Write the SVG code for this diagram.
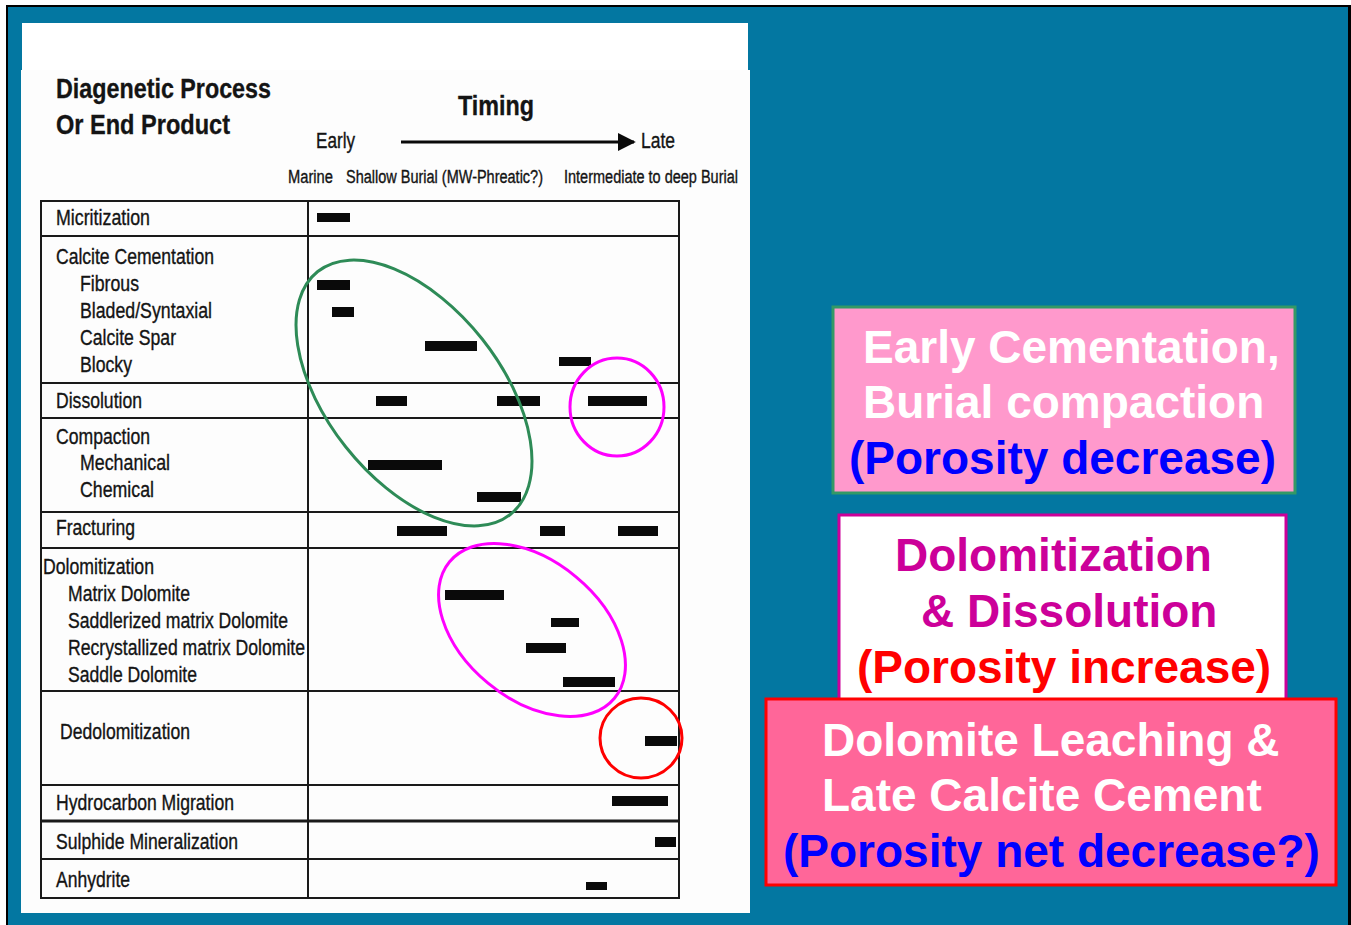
<svg xmlns="http://www.w3.org/2000/svg" width="1351" height="925" viewBox="0 0 1351 925">
<style>
.nar{font-family:"Liberation Sans",Arial,sans-serif;fill:#141414;stroke:#141414;stroke-width:0.35}
.lbl{font-size:21.5px}
.hdr{font-size:28.5px;font-weight:bold}
.sub{font-size:18px}
.bar{fill:#0a0a0a}
.grid{stroke:#1a1a1a;stroke-width:2;fill:none}
.box{font-family:"Liberation Sans",Arial,sans-serif;font-weight:bold;font-size:46px}
</style>
<defs>
<marker id="ah" viewBox="0 0 10 10" refX="9" refY="5" markerWidth="6" markerHeight="6" markerUnits="strokeWidth" orient="auto">
<path d="M0,0 L10,5 L0,10 z" fill="#0a0a0a"/>
</marker>
</defs>
<rect x="0" y="0" width="1351" height="925" fill="#ffffff"/>
<rect x="6" y="5" width="1345" height="925" fill="#000000"/>
<rect x="8" y="7" width="1340" height="925" fill="#0377A1"/>
<rect x="22" y="23" width="726" height="48" fill="#ffffff"/>
<rect x="21" y="70" width="729" height="843" fill="#fdfdfd"/>

<g id="header">
<text class="nar hdr" x="56" y="98" textLength="215" lengthAdjust="spacingAndGlyphs">Diagenetic Process</text>
<text class="nar hdr" x="56" y="134" textLength="174" lengthAdjust="spacingAndGlyphs">Or End Product</text>
<text class="nar hdr" x="458" y="115" textLength="76" lengthAdjust="spacingAndGlyphs">Timing</text>
<text class="nar lbl" x="316" y="148" textLength="39" lengthAdjust="spacingAndGlyphs">Early</text>
<text class="nar lbl" x="641" y="148" textLength="34" lengthAdjust="spacingAndGlyphs">Late</text>
<text class="nar sub" x="288" y="183" textLength="45" lengthAdjust="spacingAndGlyphs">Marine</text>
<text class="nar sub" x="346" y="183" textLength="197" lengthAdjust="spacingAndGlyphs">Shallow Burial (MW-Phreatic?)</text>
<text class="nar sub" x="564" y="183" textLength="174" lengthAdjust="spacingAndGlyphs">Intermediate to deep Burial</text>
</g>

<g id="connectors">
<line x1="401" y1="142" x2="634" y2="142" stroke="#0a0a0a" stroke-width="3" marker-end="url(#ah)"/>
</g>

<g id="table-grid" class="grid">
<rect x="41" y="201" width="638" height="697"/>
<line x1="308" y1="201" x2="308" y2="898"/>
<line x1="41" y1="236" x2="679" y2="236"/>
<line x1="41" y1="383" x2="679" y2="383"/>
<line x1="41" y1="418" x2="679" y2="418"/>
<line x1="41" y1="512" x2="679" y2="512"/>
<line x1="41" y1="548" x2="679" y2="548"/>
<line x1="41" y1="691" x2="679" y2="691"/>
<line x1="41" y1="785" x2="679" y2="785"/>
<line x1="41" y1="821" x2="679" y2="821" stroke-width="3"/>
<line x1="41" y1="859" x2="679" y2="859"/>
</g>

<g id="row-micritization">
<text class="nar lbl" x="56" y="225" textLength="94" lengthAdjust="spacingAndGlyphs">Micritization</text>
<rect class="bar" x="317" y="213" width="33" height="9"/>
</g>
<g id="row-calcite-cementation">
<text class="nar lbl" x="56" y="264" textLength="158" lengthAdjust="spacingAndGlyphs">Calcite Cementation</text>
<text class="nar lbl" x="80" y="291" textLength="59" lengthAdjust="spacingAndGlyphs">Fibrous</text>
<text class="nar lbl" x="80" y="318" textLength="132" lengthAdjust="spacingAndGlyphs">Bladed/Syntaxial</text>
<text class="nar lbl" x="80" y="345" textLength="96" lengthAdjust="spacingAndGlyphs">Calcite Spar</text>
<text class="nar lbl" x="80" y="372" textLength="52" lengthAdjust="spacingAndGlyphs">Blocky</text>
<rect class="bar" x="317" y="280" width="33" height="10"/>
<rect class="bar" x="332" y="307" width="22" height="10"/>
<rect class="bar" x="425" y="341" width="52" height="10"/>
<rect class="bar" x="559" y="357" width="32" height="9"/>
</g>
<g id="row-dissolution">
<text class="nar lbl" x="56" y="408" textLength="86" lengthAdjust="spacingAndGlyphs">Dissolution</text>
<rect class="bar" x="376" y="396" width="31" height="10"/>
<rect class="bar" x="497" y="396" width="43" height="10"/>
<rect class="bar" x="588" y="396" width="59" height="10"/>
</g>
<g id="row-compaction">
<text class="nar lbl" x="56" y="444" textLength="94" lengthAdjust="spacingAndGlyphs">Compaction</text>
<text class="nar lbl" x="80" y="470" textLength="90" lengthAdjust="spacingAndGlyphs">Mechanical</text>
<text class="nar lbl" x="80" y="497" textLength="74" lengthAdjust="spacingAndGlyphs">Chemical</text>
<rect class="bar" x="368" y="460" width="74" height="10"/>
<rect class="bar" x="477" y="492" width="44" height="10"/>
</g>
<g id="row-fracturing">
<text class="nar lbl" x="56" y="535" textLength="79" lengthAdjust="spacingAndGlyphs">Fracturing</text>
<rect class="bar" x="397" y="526" width="50" height="10"/>
<rect class="bar" x="540" y="526" width="25" height="10"/>
<rect class="bar" x="618" y="526" width="40" height="10"/>
</g>
<g id="row-dolomitization">
<text class="nar lbl" x="43" y="574" textLength="111" lengthAdjust="spacingAndGlyphs">Dolomitization</text>
<text class="nar lbl" x="68" y="601" textLength="122" lengthAdjust="spacingAndGlyphs">Matrix Dolomite</text>
<text class="nar lbl" x="68" y="628" textLength="220" lengthAdjust="spacingAndGlyphs">Saddlerized matrix Dolomite</text>
<text class="nar lbl" x="68" y="655" textLength="237" lengthAdjust="spacingAndGlyphs">Recrystallized matrix Dolomite</text>
<text class="nar lbl" x="68" y="682" textLength="129" lengthAdjust="spacingAndGlyphs">Saddle Dolomite</text>
<rect class="bar" x="445" y="590" width="59" height="10"/>
<rect class="bar" x="551" y="618" width="28" height="9"/>
<rect class="bar" x="526" y="643" width="40" height="10"/>
<rect class="bar" x="563" y="677" width="52" height="10"/>
</g>
<g id="row-dedolomitization">
<text class="nar lbl" x="60" y="739" textLength="130" lengthAdjust="spacingAndGlyphs">Dedolomitization</text>
<rect class="bar" x="645" y="736" width="32" height="10"/>
</g>
<g id="row-hydrocarbon">
<text class="nar lbl" x="56" y="810" textLength="178" lengthAdjust="spacingAndGlyphs">Hydrocarbon Migration</text>
<rect class="bar" x="612" y="796" width="56" height="10"/>
</g>
<g id="row-sulphide">
<text class="nar lbl" x="56" y="849" textLength="182" lengthAdjust="spacingAndGlyphs">Sulphide Mineralization</text>
<rect class="bar" x="655" y="837" width="21" height="10"/>
</g>
<g id="row-anhydrite">
<text class="nar lbl" x="56" y="887" textLength="74" lengthAdjust="spacingAndGlyphs">Anhydrite</text>
<rect class="bar" x="586" y="882" width="21" height="8"/>
</g>

<g id="highlights" fill="none" stroke-width="3">
<ellipse cx="414" cy="393" rx="155" ry="87" transform="rotate(51.6 414 393)" stroke="#2E8B57"/>
<ellipse cx="617" cy="407" rx="47" ry="49" stroke="#FF00FF"/>
<ellipse cx="532" cy="630" rx="107" ry="69" transform="rotate(39.6 532 630)" stroke="#FF00FF"/>
<ellipse cx="641" cy="738" rx="41" ry="40" stroke="#FF0000"/>
</g>

<g id="box-early-cementation">
<rect x="833" y="307" width="462" height="186" fill="#FF99CC" stroke="#339966" stroke-width="3"/>
<text class="box" x="863" y="363" fill="#ffffff">Early Cementation,</text>
<text class="box" x="863" y="418" fill="#ffffff">Burial compaction</text>
<text class="box" x="849" y="474" fill="#0000FF">(Porosity decrease)</text>
</g>
<g id="box-dolomitization">
<rect x="839" y="515" width="447" height="200" fill="#ffffff" stroke="#CC0099" stroke-width="3"/>
<text class="box" x="895" y="571" fill="#CC0099">Dolomitization</text>
<text class="box" x="921" y="627" fill="#CC0099">&amp; Dissolution</text>
<text class="box" x="857" y="683" fill="#FF0000">(Porosity increase)</text>
</g>
<g id="box-dolomite-leaching">
<rect x="766" y="699" width="570" height="186" fill="#FF6699" stroke="#FF0000" stroke-width="3"/>
<text class="box" x="822" y="756" fill="#ffffff">Dolomite Leaching &amp;</text>
<text class="box" x="822" y="811" fill="#ffffff">Late Calcite Cement</text>
<text class="box" x="783" y="867" fill="#0000FF">(Porosity net decrease?)</text>
</g>
</svg>
